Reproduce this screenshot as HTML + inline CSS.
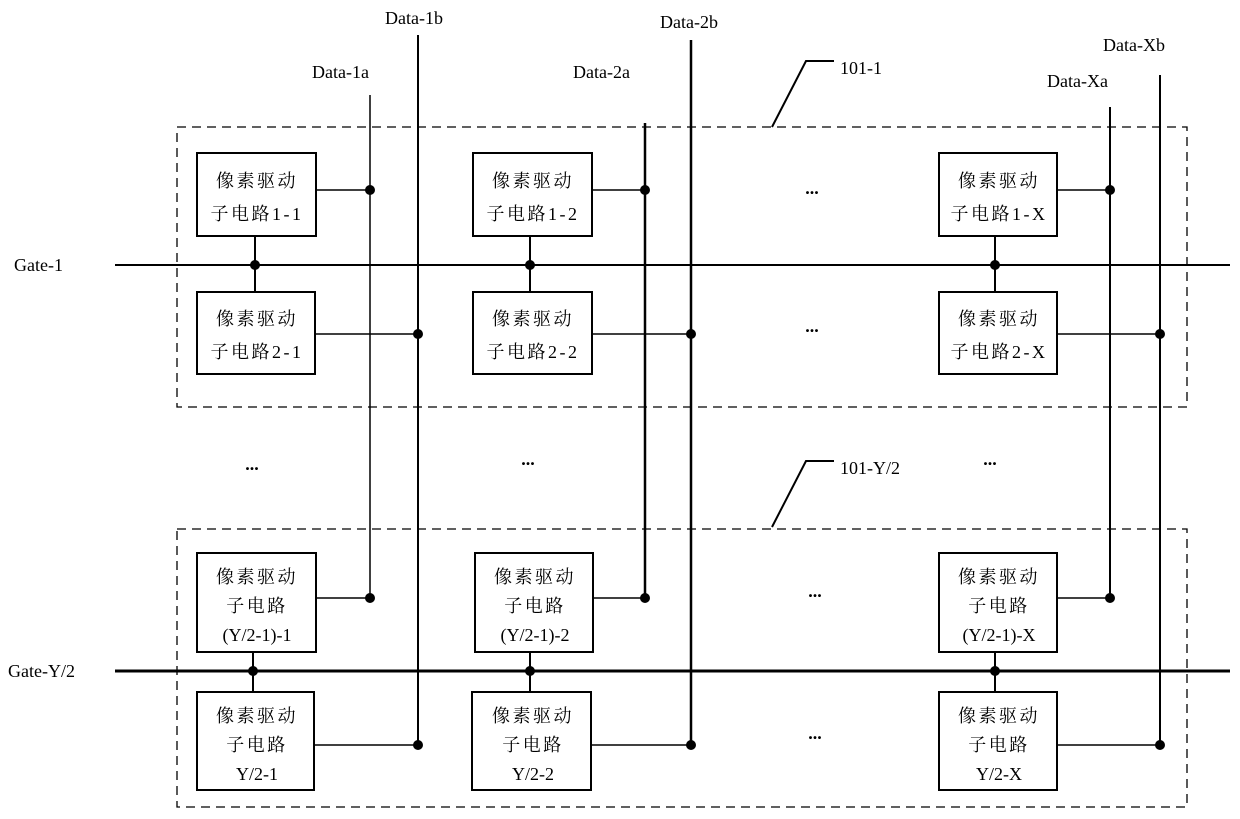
<!DOCTYPE html>
<html><head><meta charset="utf-8"><style>
html,body{margin:0;padding:0;background:#fff;}
svg{display:block;}
text{font-family:"Liberation Serif","Noto Serif CJK SC","WenQuanYi Zen Hei",serif;font-size:18px;fill:#000;}
.c{font-size:19px;letter-spacing:2.5px;}
.d{font-size:20px;font-weight:bold;}
</style></head><body>
<svg width="1240" height="819" viewBox="0 0 1240 819" xmlns="http://www.w3.org/2000/svg">
<g fill="none" stroke="#000">
<rect x="177" y="127" width="1010" height="280" stroke-width="1.3" stroke-dasharray="9,6"/>
<rect x="177" y="529" width="1010" height="278" stroke-width="1.3" stroke-dasharray="9,6"/>
<polyline points="772,127 806,61 834,61" stroke-width="2"/>
<polyline points="772,527 806,461 834,461" stroke-width="2"/>
<line x1="115" y1="265" x2="1230" y2="265" stroke-width="2"/>
<line x1="115" y1="671" x2="1230" y2="671" stroke-width="3"/>
<line x1="370" y1="95" x2="370" y2="598" stroke-width="1.5"/>
<line x1="418" y1="35" x2="418" y2="745" stroke-width="2"/>
<line x1="645" y1="123" x2="645" y2="598" stroke-width="2.5"/>
<line x1="691" y1="40" x2="691" y2="745" stroke-width="2.5"/>
<line x1="1110" y1="107" x2="1110" y2="598" stroke-width="2"/>
<line x1="1160" y1="75" x2="1160" y2="745" stroke-width="2"/>
<g stroke-width="2">
<rect x="197" y="153" width="119" height="83"/><rect x="197" y="292" width="118" height="82"/>
<rect x="473" y="153" width="119" height="83"/><rect x="473" y="292" width="119" height="82"/>
<rect x="939" y="153" width="118" height="83"/><rect x="939" y="292" width="118" height="82"/>
<rect x="197" y="553" width="119" height="99"/><rect x="197" y="692" width="117" height="98"/>
<rect x="475" y="553" width="118" height="99"/><rect x="472" y="692" width="119" height="98"/>
<rect x="939" y="553" width="118" height="99"/><rect x="939" y="692" width="118" height="98"/>
</g>
<g stroke-width="2">
<line x1="255" y1="236" x2="255" y2="292"/><line x1="530" y1="236" x2="530" y2="292"/><line x1="995" y1="236" x2="995" y2="292"/>
<line x1="253" y1="652" x2="253" y2="692"/><line x1="530" y1="652" x2="530" y2="692"/><line x1="995" y1="652" x2="995" y2="692"/>
</g>
<g stroke-width="1.5">
<line x1="316" y1="190" x2="370" y2="190"/><line x1="592" y1="190" x2="645" y2="190"/><line x1="1057" y1="190" x2="1110" y2="190"/>
<line x1="315" y1="334" x2="418" y2="334"/><line x1="592" y1="334" x2="691" y2="334"/><line x1="1057" y1="334" x2="1160" y2="334"/>
<line x1="316" y1="598" x2="370" y2="598"/><line x1="593" y1="598" x2="645" y2="598"/><line x1="1057" y1="598" x2="1110" y2="598"/>
<line x1="314" y1="745" x2="418" y2="745"/><line x1="591" y1="745" x2="691" y2="745"/><line x1="1057" y1="745" x2="1160" y2="745"/>
</g>
</g>
<g fill="#000">
<circle cx="370" cy="190" r="5"/><circle cx="645" cy="190" r="5"/><circle cx="1110" cy="190" r="5"/>
<circle cx="418" cy="334" r="5"/><circle cx="691" cy="334" r="5"/><circle cx="1160" cy="334" r="5"/>
<circle cx="255" cy="265" r="5"/><circle cx="530" cy="265" r="5"/><circle cx="995" cy="265" r="5"/>
<circle cx="253" cy="671" r="5"/><circle cx="530" cy="671" r="5"/><circle cx="995" cy="671" r="5"/>
<circle cx="370" cy="598" r="5"/><circle cx="645" cy="598" r="5"/><circle cx="1110" cy="598" r="5"/>
<circle cx="418" cy="745" r="5"/><circle cx="691" cy="745" r="5"/><circle cx="1160" cy="745" r="5"/>
</g>
<text x="385" y="24">Data-1b</text>
<text x="312" y="78">Data-1a</text>
<text x="573" y="78">Data-2a</text>
<text x="660" y="28">Data-2b</text>
<text x="1103" y="51">Data-Xb</text>
<text x="1047" y="87">Data-Xa</text>
<text x="840" y="74">101-1</text>
<text x="840" y="474">101-Y/2</text>
<text x="14" y="271">Gate-1</text>
<text x="8" y="677">Gate-Y/2</text>
<g text-anchor="middle" class="c">
<text x="257" y="187">像素驱动</text><text x="257" y="220">子电路1-1</text>
<text x="257" y="325">像素驱动</text><text x="257" y="358">子电路2-1</text>
<text x="533" y="187">像素驱动</text><text x="533" y="220">子电路1-2</text>
<text x="533" y="325">像素驱动</text><text x="533" y="358">子电路2-2</text>
<text x="999" y="187">像素驱动</text><text x="999" y="220">子电路1-X</text>
<text x="999" y="325">像素驱动</text><text x="999" y="358">子电路2-X</text>
<text x="257" y="583">像素驱动</text><text x="257" y="612">子电路</text><text x="257" y="641" style="letter-spacing:0">(Y/2-1)-1</text>
<text x="257" y="722">像素驱动</text><text x="257" y="751">子电路</text><text x="257" y="780" style="letter-spacing:0">Y/2-1</text>
<text x="535" y="583">像素驱动</text><text x="535" y="612">子电路</text><text x="535" y="641" style="letter-spacing:0">(Y/2-1)-2</text>
<text x="533" y="722">像素驱动</text><text x="533" y="751">子电路</text><text x="533" y="780" style="letter-spacing:0">Y/2-2</text>
<text x="999" y="583">像素驱动</text><text x="999" y="612">子电路</text><text x="999" y="641" style="letter-spacing:0">(Y/2-1)-X</text>
<text x="999" y="722">像素驱动</text><text x="999" y="751">子电路</text><text x="999" y="780" style="letter-spacing:0">Y/2-X</text>
</g>
<g text-anchor="middle" class="d">
<text x="812" y="194">...</text><text x="812" y="332">...</text>
<text x="252" y="470">...</text><text x="528" y="465">...</text><text x="990" y="465">...</text>
<text x="815" y="597">...</text><text x="815" y="739">...</text>
</g>
</svg>
</body></html>
